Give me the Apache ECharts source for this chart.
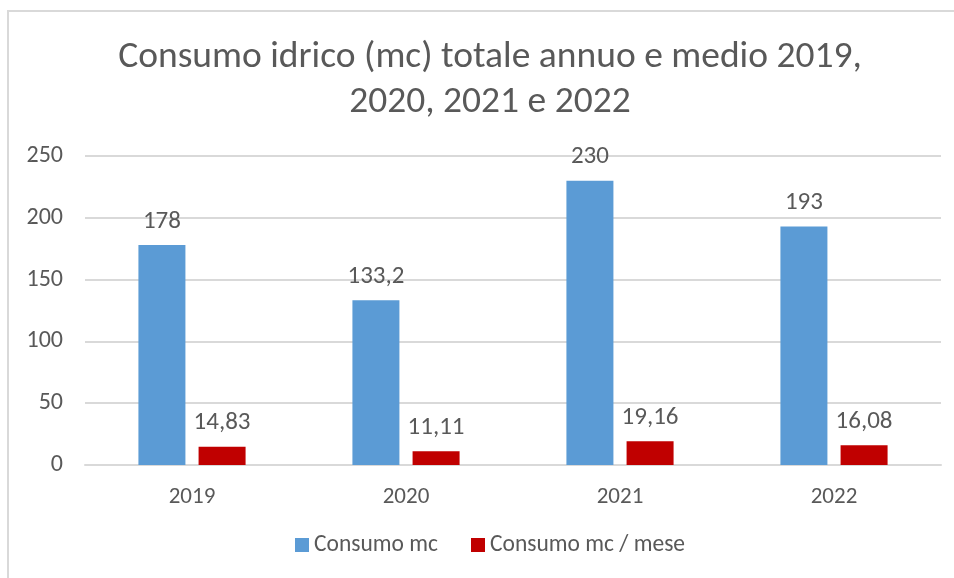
<!DOCTYPE html>
<html>
<head>
<meta charset="utf-8">
<script src="https://cdn.jsdelivr.net/npm/echarts@6/dist/echarts.min.js"></script>
<style>html,body{margin:0;padding:0;background:#fff;overflow:hidden}#c{width:980px;height:578px}</style>
</head>
<body>
<div id="c"></div>
<script>
const categories = ['2019', '2020', '2021', '2022'];
const consumoMc = [178, 133.2, 230, 193];
const consumoMese = [14.83, 11.11, 19.16, 16.08];
const seriesNames = ['Consumo mc', 'Consumo mc / mese'];
const titleText = 'Consumo idrico (mc) totale annuo e medio 2019,\n2020, 2021 e 2022';

const FONT = "Carlito, 'Liberation Sans', sans-serif";
const TXT = '#595959';
const fmt = v => String(v.value).replace('.', ',');

const chart = echarts.init(document.getElementById('c'), null, {renderer: 'canvas'});
chart.setOption({
  animation: false,
  backgroundColor: '#fff',
  textStyle: {fontFamily: FONT, color: TXT},
  title: {
    text: titleText,
    left: 'center',
    top: 30,
    textStyle: {fontFamily: FONT, fontSize: 37.5, fontWeight: 'normal', color: TXT, lineHeight: 45}
  },
  legend: {
    bottom: 16,
    left: 'center',
    itemWidth: 14,
    itemHeight: 14,
    itemGap: 33,
    itemTextGap: 6,
    icon: 'rect',
    textStyle: {fontFamily: FONT, fontSize: 23.5, color: TXT},
    data: seriesNames
  },
  grid: {left: 85, right: 39, top: 156, bottom: 113, containLabel: false},
  xAxis: {
    type: 'category',
    data: categories,
    axisTick: {show: false},
    axisLine: {show: true, lineStyle: {color: '#D9D9D9', width: 2}},
    axisLabel: {fontFamily: FONT, fontSize: 23, color: TXT, margin: 21}
  },
  yAxis: {
    type: 'value',
    min: 0,
    max: 250,
    interval: 50,
    axisLine: {show: false},
    axisTick: {show: false},
    splitLine: {lineStyle: {color: '#D9D9D9', width: 2}},
    axisLabel: {fontFamily: FONT, fontSize: 24, color: TXT, margin: 22}
  },
  series: [
    {
      name: seriesNames[0],
      type: 'bar',
      data: consumoMc,
      barWidth: 47,
      barGap: '28%',
      itemStyle: {color: '#5B9BD5'},
      label: {show: true, position: 'top', distance: 11, fontFamily: FONT, fontSize: 25, color: TXT, formatter: fmt}
    },
    {
      name: seriesNames[1],
      type: 'bar',
      data: consumoMese,
      barWidth: 47,
      itemStyle: {color: '#C00000'},
      label: {show: true, position: 'top', distance: 11, fontFamily: FONT, fontSize: 25, color: TXT, formatter: fmt}
    }
  ],
  graphic: [
    {type: 'line', shape: {x1: 7, y1: 11, x2: 980, y2: 11}, style: {stroke: '#D9D9D9', lineWidth: 2}, silent: true},
    {type: 'line', shape: {x1: 8, y1: 10, x2: 8, y2: 578}, style: {stroke: '#D9D9D9', lineWidth: 2}, silent: true}
  ]
});
</script>
</body>
</html>
